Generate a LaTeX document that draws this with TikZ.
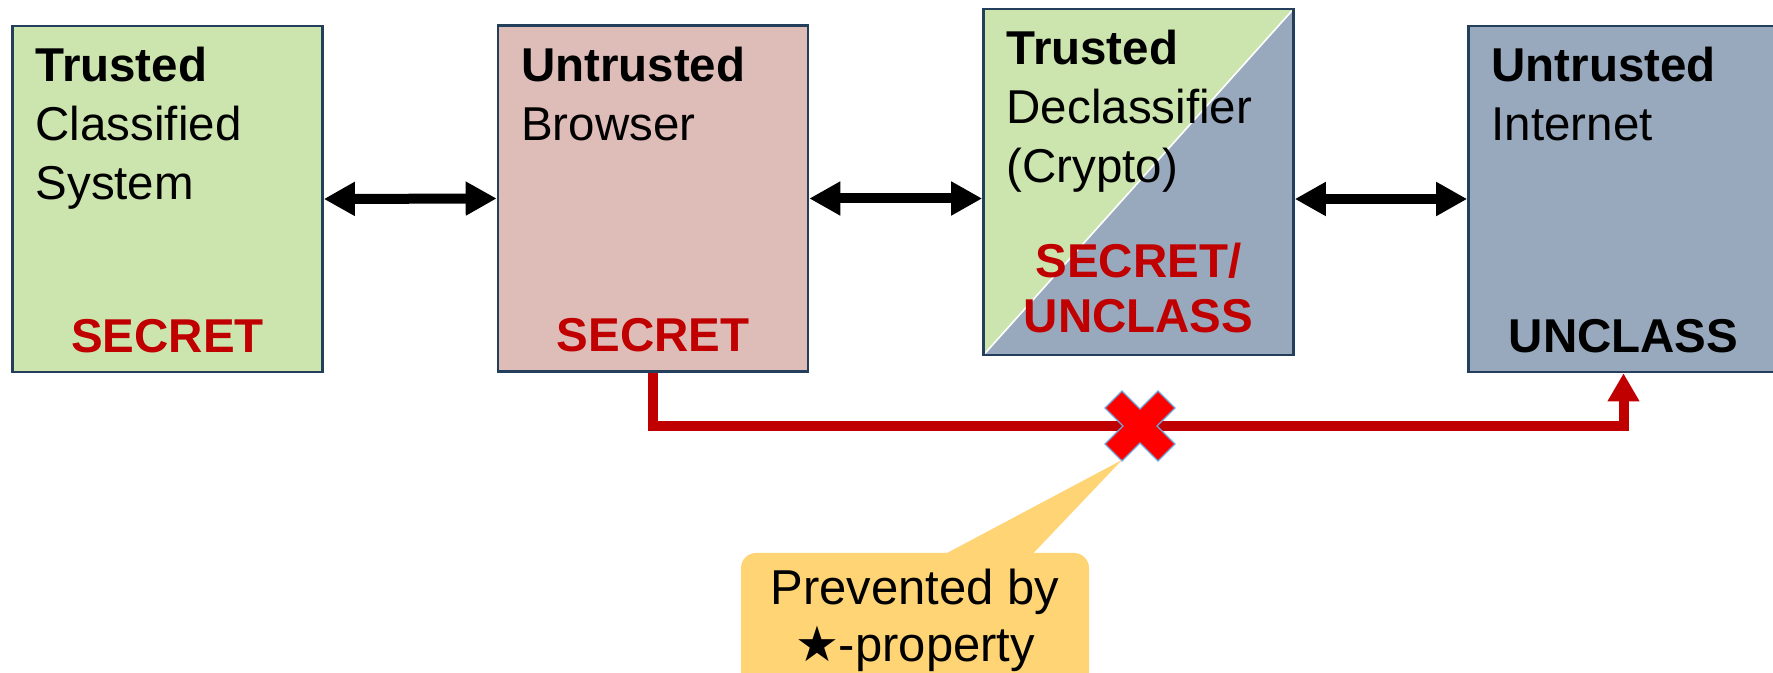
\documentclass[tikz,border=0pt]{standalone}
\usepackage{fontspec}
\setmainfont{Liberation Sans}
\newfontfamily\starfont{DejaVu Sans}
\usepackage{tikz}
\usetikzlibrary{arrows.meta,positioning,calc}
\definecolor{boxline}{HTML}{243F5C}
\definecolor{trgreen}{HTML}{CCE4AD}
\definecolor{brpink}{HTML}{DEBCB8}
\definecolor{netblue}{HTML}{99A9BD}
\definecolor{lvred}{HTML}{C00000}
\definecolor{notegold}{HTML}{FFD475}
\definecolor{xedge}{HTML}{6FA8DC}

\begin{document}
\begin{tikzpicture}[x=0.5pt,y=-0.5pt,
  sysbox/.style={draw=boxline,line width=1.3pt,minimum width=155pt,minimum height=173pt,inner sep=0pt},
  boxtext/.style={anchor=north west,align=left,inner sep=0pt,font=\fontsize{23.75pt}{29.5pt}\selectfont},
  lvtext/.style={align=center,inner sep=0pt,font=\bfseries\fontsize{23.75pt}{27.5pt}\selectfont},
  link/.style={line width=5pt,{Triangle[length=15.5pt,width=16pt]}-{Triangle[length=15.5pt,width=16pt]}},
  leak/.style={draw=lvred,line width=5pt,-{Triangle[length=14pt,width=15pt]}}]
  \useasboundingbox (0,0) rectangle (1773,673); % 画像の範囲
  \node[sysbox,fill=trgreen] (cls) at (167.5,199) {}; % 機密システム
  \node[sysbox,fill=brpink] (brw) at (653,198.5) {}; % ブラウザ
  \node[sysbox,fill=netblue,path picture={
      \fill[trgreen] (path picture bounding box.south west) -- (path picture bounding box.north west) -- (path picture bounding box.north east) -- cycle;
      \draw[white,line width=0.8pt] (path picture bounding box.south west) -- (path picture bounding box.north east);}] (dcl) at (1138.5,182) {}; % 機密解除器（斜めに二色）
  \node[sysbox,fill=netblue] (net) at (1623.5,199) {}; % インターネット
  \node[boxtext] at ($(cls.north west)+(24,22)$) {\textbf{Trusted}\\Classified\\System};
  \node[boxtext] at ($(brw.north west)+(24,22)$) {\textbf{Untrusted}\\Browser};
  \node[boxtext] at ($(dcl.north west)+(24,22)$) {\textbf{Trusted}\\Declassifier\\(Crypto)};
  \node[boxtext] at ($(net.north west)+(24,22)$) {\textbf{Untrusted}\\Internet};
  \node[lvtext,text=lvred,anchor=base] at ($(cls.south)+(0,-21)$) {SECRET}; % 機密レベル
  \node[lvtext,text=lvred,anchor=base] at ($(brw.south)+(0,-21)$) {SECRET};
  \node[lvtext,text=lvred,anchor=south] at ($(dcl.south)+(0,-23)$) {SECRET/\\UNCLASS};
  \node[lvtext,anchor=base] at ($(net.south)+(0,-21)$) {UNCLASS};
  \draw[link] (cls.east) -- (brw.west); % 双方向の矢印
  \draw[link] (brw.east) -- (brw.east -| dcl.west);
  \draw[link] (dcl.east |- net.west) -- (net.west);
  \coordinate (blk) at (1140,426); % 阻止される位置
  \draw[leak] (brw.south) |- (blk) -| (net.south); % 禁止された情報の流れ
  \filldraw[fill=red,draw=xedge,line width=0.6pt,shift={(blk)}] (-18,-35) -- (0,-17) -- (18,-35) -- (35,-18) -- (17,0) -- (35,18) -- (18,35) -- (0,17) -- (-18,35) -- (-35,18) -- (-17,0) -- (-35,-18) -- cycle; % バツ印
  \coordinate (tip) at (1122,460); % 吹き出しの先端
  \node[fill=notegold,rounded corners=7.5pt,minimum width=174pt,minimum height=67.5pt,align=center,inner sep=0pt,
    font=\fontsize{24.5pt}{28.5pt}\selectfont] (note) at (915,620.5) {Prevented by\\{\starfont ★}-property};
  \fill[notegold] ($(note.north)+(29,2)$) -- (tip) -- ($(note.north)+(117,2)$) -- cycle; % 吹き出しの尾
\end{tikzpicture}
\end{document}
